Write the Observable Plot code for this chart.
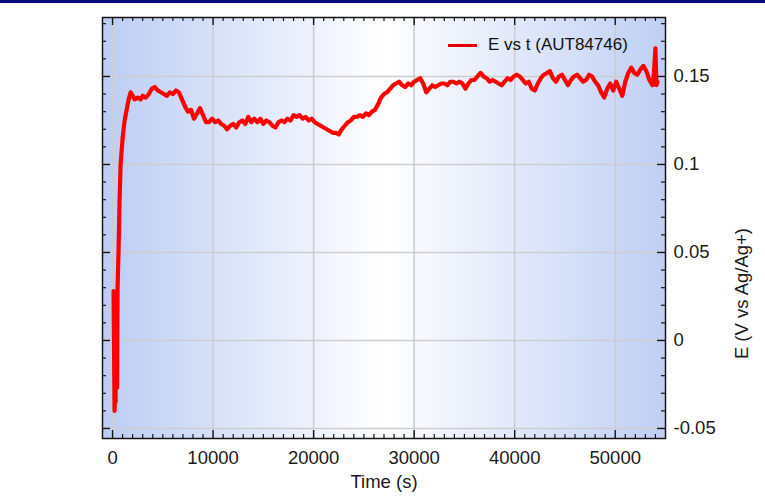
<!DOCTYPE html>
<html>
<head>
<meta charset="utf-8">
<script src="https://cdn.jsdelivr.net/npm/d3@7"></script>
<script src="https://cdn.jsdelivr.net/npm/@observablehq/plot@0.6"></script>
<style>
  body { margin: 0; background: #fff; font-family: "Liberation Sans", Arial, sans-serif; }
  #wrap { position: relative; width: 765px; height: 499px; overflow: hidden; }
  #wrap svg { position: absolute; left: 0; top: 0; }
  #topbar { position: absolute; left: 0; top: 0; width: 765px; height: 3px; background: #0a0a7e; }
  #legend { position: absolute; left: 448px; top: 35px; height: 20px; display: flex; align-items: center; font-size: 17px; color: #111; }
  #legend .swatch { width: 29px; height: 3px; background: #e00000; margin-right: 11px; }
</style>
</head>
<body>
<div id="wrap">
  <div id="topbar"></div>
  <div id="legend"><span class="swatch"></span><span id="legend-text"></span></div>
</div>
<script>
// Open-circuit potential recording: time (s) and E (V vs Ag/Ag+)
const seriesName = "E vs t (AUT84746)";
const timeS = [
  100, 150, 200, 250, 300, 350, 400, 450, 500, 600, 700, 800, 1000, 1200, 1400, 1600, 1800,
  2000, 2200, 2500, 2800, 3000, 3300, 3600, 3900, 4200, 4500, 4800, 5100, 5400, 5700,
  6000, 6300, 6600, 6900, 7200, 7500, 7800, 8100, 8400, 8700, 9000, 9300, 9600, 9900,
  10200, 10500, 10800, 11100, 11400, 11700, 12000, 12300, 12600, 12900, 13200, 13500, 13800,
  14100, 14400, 14700, 15000, 15300, 15600, 15900, 16200, 16500, 16800, 17100, 17400, 17700,
  18000, 18300, 18600, 18900, 19200, 19500, 19800, 20100, 20400, 20700, 21000, 21300, 21600,
  21900, 22200, 22500, 22800, 23100, 23400, 23700, 24000, 24300, 24600, 24900, 25200, 25500,
  25800, 26100, 26400, 26700, 27000, 27300, 27600, 27900, 28200, 28500, 28800, 29100, 29400,
  29700, 30000, 30300, 30600, 30900, 31200, 31500, 31800, 32100, 32400, 32700, 33000, 33300,
  33600, 33900, 34200, 34500, 34800, 35100, 35400, 35700, 36000, 36300, 36600, 36900, 37200,
  37500, 37800, 38100, 38400, 38700, 39000, 39300, 39600, 39900, 40200, 40500, 40800, 41100,
  41400, 41700, 42000, 42300, 42600, 42900, 43200, 43500, 43800, 44100, 44400, 44700, 45000,
  45300, 45600, 45900, 46200, 46500, 46800, 47100, 47400, 47700, 48000, 48300, 48600, 48900,
  49200, 49500, 49800, 50100, 50400, 50700, 51000, 51300, 51600, 51900, 52200, 52500, 52800,
  53100, 53400, 53700, 53850, 54000, 54100, 54200
];
const potentialV = [
  0.028, -0.005, -0.040, -0.020, -0.035, 0.010, 0.025, -0.027, 0.030, 0.052, 0.080, 0.100, 0.115, 0.125, 0.131, 0.137, 0.141,
  0.139, 0.137, 0.138, 0.137, 0.139, 0.138, 0.140, 0.143, 0.144, 0.142, 0.141, 0.140, 0.139, 0.141,
  0.140, 0.142, 0.141, 0.137, 0.133, 0.130, 0.131, 0.126, 0.129, 0.132, 0.128, 0.124, 0.124, 0.126,
  0.124, 0.125, 0.123, 0.122, 0.120, 0.122, 0.123, 0.121, 0.124, 0.125, 0.123, 0.127, 0.124,
  0.126, 0.124, 0.126, 0.123, 0.125, 0.124, 0.122, 0.121, 0.124, 0.125, 0.124, 0.126, 0.125,
  0.128, 0.127, 0.128, 0.126, 0.127, 0.125, 0.126, 0.124, 0.123, 0.122, 0.121, 0.120, 0.119,
  0.118, 0.118, 0.117, 0.120, 0.122, 0.124, 0.125, 0.127, 0.127, 0.128, 0.127, 0.129, 0.128,
  0.130, 0.131, 0.134, 0.138, 0.140, 0.141, 0.143, 0.145, 0.146, 0.147, 0.145, 0.144, 0.146,
  0.145, 0.147, 0.148, 0.149, 0.146, 0.141, 0.143, 0.145, 0.144, 0.145, 0.146, 0.146, 0.145,
  0.147, 0.147, 0.146, 0.147, 0.146, 0.143, 0.146, 0.148, 0.148, 0.150, 0.152, 0.150, 0.149,
  0.147, 0.148, 0.147, 0.146, 0.145, 0.147, 0.149, 0.148, 0.150, 0.151, 0.150, 0.148, 0.146,
  0.147, 0.143, 0.142, 0.146, 0.149, 0.151, 0.152, 0.153, 0.149, 0.147, 0.150, 0.151, 0.148,
  0.145, 0.148, 0.150, 0.151, 0.149, 0.147, 0.148, 0.151, 0.150, 0.147, 0.145, 0.141, 0.138,
  0.143, 0.146, 0.142, 0.147, 0.143, 0.139, 0.147, 0.152, 0.155, 0.152, 0.151, 0.154, 0.156,
  0.153, 0.148, 0.145, 0.152, 0.166, 0.145, 0.147
];

// Axis ticks and their labels
const majorX = [0, 10000, 20000, 30000, 40000, 50000];
const majorXLabels = ["0", "10000", "20000", "30000", "40000", "50000"];
const majorY = [-0.05, 0, 0.05, 0.1, 0.15];
const majorYLabels = ["-0.05", "0", "0.05", "0.1", "0.15"];
const minorX = d3.range(1000, 55000, 1000).filter(t => t % 10000 !== 0);
const minorY = d3.range(-5, 19).map(i => i / 100).filter(v => Math.round(v * 100) % 5 !== 0);
const xLabel = "Time (s)";
const yLabel = "E (V vs Ag/Ag+)";

const readings = timeS.map((t, i) => ({t, e: potentialV[i]}));

const W = 765, H = 499;
const M = {top: 17, right: 100, bottom: 61, left: 102};
const plotW = W - M.left - M.right;
const plotH = H - M.top - M.bottom;
const ink = "#151515";
const fontSize = 18.5;

// Horizontal blue-white-blue wash behind the plot area
const gradientDefs = () => {
  const defs = d3.create("svg:defs");
  const g = defs.append("linearGradient").attr("id", "panel-wash").attr("x1", 0).attr("x2", 1).attr("y1", 0).attr("y2", 0);
  g.append("stop").attr("offset", "0%").attr("stop-color", "#bccdf4");
  g.append("stop").attr("offset", "50%").attr("stop-color", "#ffffff");
  g.append("stop").attr("offset", "100%").attr("stop-color", "#bfcff4");
  return defs.node();
};

const xFmt = d => majorXLabels[majorX.indexOf(d)];
const yFmt = d => majorYLabels[majorY.findIndex(v => Math.abs(v - d) < 1e-9)];

const chart = Plot.plot({
  width: W,
  height: H,
  marginTop: M.top,
  marginRight: M.right,
  marginBottom: M.bottom,
  marginLeft: M.left,
  style: {fontFamily: "'Liberation Sans', Arial, sans-serif", fontSize: fontSize + "px", color: ink, background: "transparent"},
  x: {domain: [-1000, 55000], axis: null},
  y: {domain: [-0.0557, 0.1835], axis: null},
  marks: [
    gradientDefs,
    Plot.frame({fill: "url(#panel-wash)", stroke: null}),
    Plot.gridX(majorX, {stroke: "#cdcdcd", strokeOpacity: 1, strokeWidth: 1.6}),
    Plot.gridY(majorY, {stroke: "#cdcdcd", strokeOpacity: 1, strokeWidth: 1.6}),
    Plot.line(readings, {x: "t", y: "e", stroke: "#ff0000", strokeWidth: 4.2, strokeLinejoin: "round", strokeLinecap: "round"}),
    // inward ticks on all four sides
    Plot.tickX(majorX, {x: d => d, insetTop: plotH - 8, stroke: ink, strokeWidth: 1.4}),
    Plot.tickX(minorX, {x: d => d, insetTop: plotH - 4, stroke: ink, strokeWidth: 1.2}),
    Plot.tickX(majorX, {x: d => d, insetBottom: plotH - 8, stroke: ink, strokeWidth: 1.4}),
    Plot.tickX(minorX, {x: d => d, insetBottom: plotH - 4, stroke: ink, strokeWidth: 1.2}),
    Plot.tickY(majorY, {y: d => d, insetRight: plotW - 8, stroke: ink, strokeWidth: 1.4}),
    Plot.tickY(minorY, {y: d => d, insetRight: plotW - 4, stroke: ink, strokeWidth: 1.2}),
    Plot.tickY(majorY, {y: d => d, insetLeft: plotW - 8, stroke: ink, strokeWidth: 1.4}),
    Plot.tickY(minorY, {y: d => d, insetLeft: plotW - 4, stroke: ink, strokeWidth: 1.2}),
    Plot.frame({stroke: ink, strokeWidth: 1.5}),
    Plot.axisX(majorX, {anchor: "bottom", tickSize: 0, tickPadding: 12, tickFormat: xFmt, label: null, fill: "#1a1a1a"}),
    Plot.axisY(majorY, {anchor: "right", tickSize: 0, tickPadding: 8, tickFormat: yFmt, label: null, fill: "#1a1a1a"}),
    Plot.text([xLabel], {frameAnchor: "bottom", dy: 49, lineAnchor: "bottom", fill: "#1a1a1a", text: d => d}),
    Plot.text([yLabel], {frameAnchor: "right", dx: 77, rotate: -90, fill: "#1a1a1a", text: d => d})
  ]
});

const wrap = document.getElementById("wrap");
wrap.insertBefore(chart, wrap.firstChild);
document.getElementById("legend-text").textContent = seriesName;
</script>
</body>
</html>
